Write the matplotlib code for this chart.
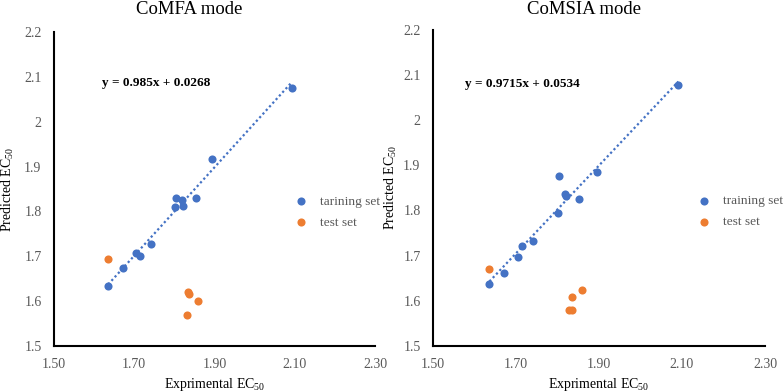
import numpy as np
from matplotlib import pyplot as plt
from matplotlib.ticker import FixedLocator, FuncFormatter

plt.rcParams['font.family'] = ['Liberation Serif', 'DejaVu Serif']
plt.rcParams['mathtext.fontset'] = 'custom'
plt.rcParams['mathtext.rm'] = 'Liberation Serif'
plt.rcParams['mathtext.default'] = 'regular'

##############################################################################################
##                          data
##############################################################################################
comfa_train_x = [1.635, 1.671, 1.704, 1.714, 1.741, 1.802, 1.804, 1.819, 1.821, 1.854, 1.894, 2.092]
comfa_train_y = [1.634, 1.673, 1.707, 1.700, 1.728, 1.810, 1.830, 1.825, 1.813, 1.829, 1.917, 2.076]
comfa_test_x = [1.635, 1.833, 1.836, 1.860, 1.831]
comfa_test_y = [1.694, 1.620, 1.616, 1.600, 1.570]
comfa_slope, comfa_icpt = 0.985, 0.0268

comsia_train_x = [1.636, 1.672, 1.704, 1.714, 1.740, 1.801, 1.804, 1.819, 1.821, 1.853, 1.894, 2.091]
comsia_train_y = [1.637, 1.661, 1.697, 1.721, 1.732, 1.795, 1.875, 1.837, 1.831, 1.825, 1.885, 2.077]
comsia_test_x = [1.636, 1.836, 1.860, 1.828, 1.836]
comsia_test_y = [1.670, 1.608, 1.623, 1.579, 1.579]
comsia_slope, comsia_icpt = 0.9715, 0.0534

titles = ["CoMFA mode", "CoMSIA mode"]
train_labels = ["tarining set", "training set"]
equations = ["y = 0.985x + 0.0268", "y = 0.9715x + 0.0534"]
xticks = [1.50, 1.70, 1.90, 2.10, 2.30]
yticks = [1.5, 1.6, 1.7, 1.8, 1.9, 2.0, 2.1, 2.2]

BLUE = "#4472C4"
ORANGE = "#ED7D31"
GREY = "#595959"

fig = plt.figure(figsize=(7.84, 3.92), dpi=100)

panels = [
    dict(rect=[54/784, 46/392, 321/784, 314/392], title_x=189/784, eq_xy=(1.620, 2.086), leg=(0.690, 0.427), ylpad=6,
         tx=comfa_train_x, ty=comfa_train_y, sx=comfa_test_x, sy=comfa_test_y, m=comfa_slope, b=comfa_icpt),
    dict(rect=[433/784, 46/392, 332/784, 316.5/392], title_x=584/784, eq_xy=(1.577, 2.079), leg=(0.740, 0.425), ylpad=3,
         tx=comsia_train_x, ty=comsia_train_y, sx=comsia_test_x, sy=comsia_test_y, m=comsia_slope, b=comsia_icpt),
]

for i, p in enumerate(panels):
    ax = fig.add_axes(p['rect'])
    tx = np.array(p['tx'])
    xl = np.array([tx.min(), tx.max()])
    ax.plot(xl, p['m'] * xl + p['b'], ls=(0, (1, 1.2)), color=BLUE, lw=1.6, zorder=2)
    ax.scatter(p['tx'], p['ty'], s=34, color=BLUE, label=train_labels[i], zorder=3, linewidths=0)
    ax.scatter(p['sx'], p['sy'], s=34, color=ORANGE, label="test set", zorder=3, linewidths=0)

    ax.set_xlim(1.5, 2.3)
    ax.set_ylim(1.5, 2.2)
    ax.xaxis.set_major_locator(FixedLocator(xticks))
    ax.yaxis.set_major_locator(FixedLocator(yticks))
    ax.xaxis.set_major_formatter(FuncFormatter(lambda v, pos: "%.2f" % v))
    ax.yaxis.set_major_formatter(FuncFormatter(lambda v, pos: ("%.1f" % v).rstrip('0').rstrip('.')))
    ax.tick_params(length=0, labelsize=10, labelcolor=GREY, pad=9)
    for s in ['top', 'right']:
        ax.spines[s].set_visible(False)
    for s in ['left', 'bottom']:
        ax.spines[s].set_linewidth(1.5)
        ax.spines[s].set_color('black')

    ax.set_xlabel("Exprimental EC$_{50}$", fontsize=10, labelpad=3)
    ax.set_ylabel("Predicted EC$_{50}$", fontsize=10, labelpad=p['ylpad'])
    ax.text(p['eq_xy'][0], p['eq_xy'][1], equations[i], fontsize=9.5, fontweight='bold', va='center', ha='left')

    leg = ax.legend(loc='center left', bbox_to_anchor=p['leg'], frameon=False, fontsize=9.6,
                    handletextpad=0.45, labelspacing=0.65, markerscale=1.0)
    for t in leg.get_texts():
        t.set_color(GREY)

    fig.text(p['title_x'], 1 - 10/392, titles[i], fontsize=13.5, ha='center', va='center')

plt.savefig("out.png", dpi=100)
